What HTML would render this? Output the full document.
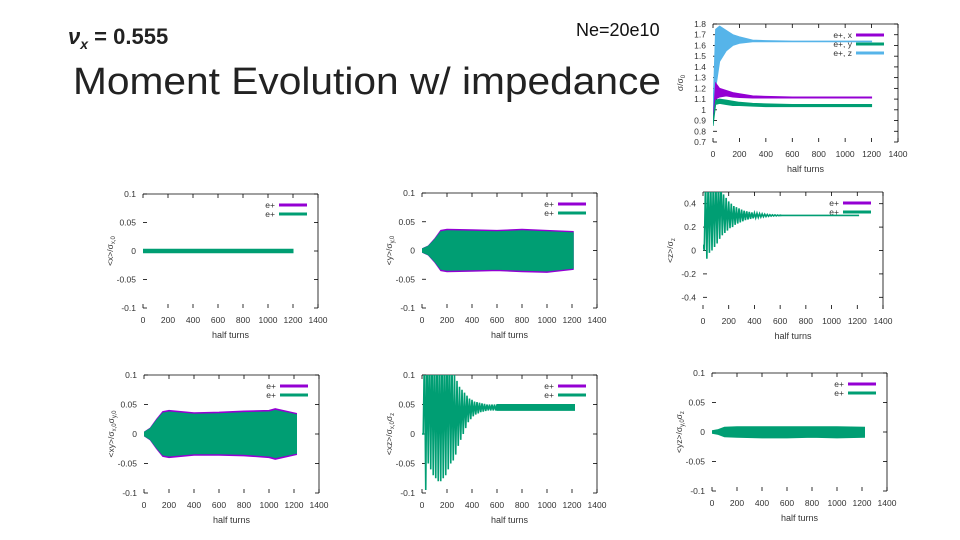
<!DOCTYPE html>
<html><head><meta charset="utf-8"><style>
html,body{margin:0;padding:0;background:#fff;}
svg{display:block;}
text{font-family:"Liberation Sans",sans-serif;}
</style></head><body>
<svg id="s" width="960" height="540" viewBox="0 0 960 540">
<text x="68" y="44" font-family="Liberation Serif,serif" font-size="22" font-weight="bold" font-style="italic" fill="#222">ν<tspan font-size="14" dy="5">x</tspan><tspan dy="-5" font-style="normal"> = 0.555</tspan></text>
<text x="576" y="36" font-size="18" fill="#111">Ne=20e10</text>
<text x="73" y="94" font-size="38" fill="#222" textLength="588" lengthAdjust="spacingAndGlyphs">Moment Evolution w/ impedance</text>
</svg>
<script>
// ---------- data ----------
// sigma panel (top right)
const sigX = [0,20,50,100,150,200,300,400,600,1200];
const sigZUp = [1.0,1.75,1.78,1.74,1.70,1.68,1.65,1.645,1.64,1.64];
const sigZLo = [0.85,1.2,1.45,1.55,1.6,1.62,1.635,1.635,1.635,1.635];
const sigXUp = [0.9,1.25,1.2,1.18,1.16,1.15,1.13,1.125,1.12,1.12];
const sigXLo = [0.9,1.1,1.12,1.13,1.12,1.115,1.11,1.11,1.11,1.11];
const sigYUp = [0.9,1.09,1.1,1.09,1.08,1.07,1.06,1.055,1.05,1.05];
const sigYLo = [0.85,1.05,1.06,1.05,1.04,1.04,1.035,1.03,1.03,1.03];
const sigYTicks = [0.7,0.8,0.9,1,1.1,1.2,1.3,1.4,1.5,1.6,1.7,1.8];
const turnTicks = [0,200,400,600,800,1000,1200,1400];
// <x>
const xxX = [0,200,400,600,800,1000,1200];
const xxUp = [0.003,0.003,0.003,0.003,0.003,0.003,0.003];
const xxLo = [-0.003,-0.003,-0.003,-0.003,-0.003,-0.003,-0.003];
// <y>
const yyX = [0,50,100,150,200,400,600,800,1000,1210];
const yyUp = [0.003,0.008,0.02,0.035,0.037,0.036,0.035,0.037,0.035,0.033];
const yyLo = [-0.003,-0.008,-0.02,-0.035,-0.037,-0.036,-0.035,-0.037,-0.038,-0.033];
// <z> peaks every 20 half turns
const zzX = [0,20,40,60,80,100,120,140,160,180,200,220,240,260,280,300,320,340,360,380,400,420,440,460,480,500,520,540,560,580,600];
const zzUp = [0.05,0.6,0.6,0.6,0.6,0.6,0.6,0.6,0.48,0.45,0.42,0.40,0.38,0.37,0.36,0.35,0.34,0.335,0.33,0.325,0.32,0.318,0.315,0.313,0.31,0.308,0.306,0.305,0.304,0.303,0.302];
const zzLo = [0.0,-0.07,-0.02,0.0,0.03,0.06,0.10,0.13,0.15,0.17,0.19,0.20,0.22,0.23,0.24,0.25,0.26,0.265,0.27,0.275,0.28,0.283,0.286,0.288,0.29,0.292,0.294,0.295,0.296,0.297,0.298];
const zzTailX = [600,1210];
const zzTailUp = [0.302,0.302];
const zzTailLo = [0.297,0.297];
// <xy>
const xyX = [0,50,100,150,200,400,600,800,1000,1050,1220];
const xyUp = [0.003,0.01,0.025,0.038,0.04,0.036,0.037,0.039,0.04,0.043,0.035];
const xyLo = [-0.003,-0.01,-0.025,-0.038,-0.04,-0.036,-0.036,-0.037,-0.04,-0.043,-0.035];
// <xz> peaks every 20 half turns
const xzX = [0,20,40,60,80,100,120,140,160,180,200,220,240,260,280,300,320,340,360,380,400,420,440,460,480,500,520,540,560,580,600];
const xzUp = [0.0,0.15,0.15,0.15,0.15,0.15,0.15,0.15,0.15,0.15,0.15,0.15,0.12,0.10,0.09,0.08,0.075,0.07,0.065,0.06,0.058,0.055,0.054,0.053,0.052,0.051,0.05,0.05,0.05,0.05,0.05];
const xzLo = [0.0,-0.095,-0.05,-0.06,-0.07,-0.075,-0.08,-0.08,-0.075,-0.07,-0.06,-0.05,-0.045,-0.035,-0.02,-0.01,0.0,0.01,0.02,0.025,0.03,0.033,0.035,0.037,0.038,0.039,0.04,0.04,0.04,0.04,0.04];
const xzTailX = [600,1220];
const xzTailUp = [0.05,0.05];
const xzTailLo = [0.04,0.04];
// <yz>
const yzX = [0,50,100,200,400,600,800,1000,1220];
const yzUp = [0.002,0.004,0.008,0.009,0.009,0.009,0.009,0.009,0.008];
const yzLo = [-0.002,-0.004,-0.008,-0.009,-0.01,-0.01,-0.009,-0.01,-0.009];
const tick01 = [-0.1,-0.05,0,0.05,0.1];
const tick04 = [-0.4,-0.2,0,0.2,0.4];

const NS='http://www.w3.org/2000/svg';
const svg=document.getElementById('s');
function el(tag,attrs,parent){const e=document.createElementNS(NS,tag);for(const k in attrs)e.setAttribute(k,attrs[k]);(parent||svg).appendChild(e);return e;}
const PUR='#9400d3',GRN='#009e73',BLU='#56b4e9';

function panel(name,g,yt,ylab,legend){
  const grp=el('g',{});
  
  
  const clipId='c'+name;
  const cp=el('clipPath',{id:clipId},grp);
  el('rect',{x:g.x0,y:g.yTop,width:g.x1-g.x0,height:g.yBot-g.yTop},cp);
  const sx=v=>g.x0+(v-0)/1400*(g.x1-g.x0);
  const sy=v=>g.yBot-(v-g.ymin)/(g.ymax-g.ymin)*(g.yBot-g.yTop);
  const ax=el('g',{stroke:'#000','stroke-width':0.8},grp);
  
  
  el('line',{x1:g.x0,y1:g.yTop,x2:g.x1,y2:g.yTop},ax);
  el('line',{x1:g.x1,y1:g.yTop,x2:g.x1,y2:g.yBot},ax);
  yt.forEach(v=>{const y=sy(v);
    el('line',{x1:g.x0,y1:y,x2:g.x0+4,y2:y},ax);el('line',{x1:g.x1-4,y1:y,x2:g.x1,y2:y},ax);
    const t=el('text',{x:g.x0-7,y:y+3,'font-size':8.5,'text-anchor':'end',fill:'#333'},grp);
    
    
    t.textContent=String(v);});
  turnTicks.forEach(v=>{const x=sx(v);
    el('line',{x1:x,y1:g.yBot,x2:x,y2:g.yBot-4},ax);el('line',{x1:x,y1:g.yTop,x2:x,y2:g.yTop+4},ax);
    const t=el('text',{x:x,y:g.yBot+15,'font-size':8.5,'text-anchor':'middle',fill:'#333'},grp);
    
    
    t.textContent=String(v);});
  const xl=el('text',{x:(g.x0+g.x1)/2,y:g.yBot+30,'font-size':9,'text-anchor':'middle',fill:'#333'},grp);
  
  
  xl.textContent='half turns';
  const cy=(g.yTop+g.yBot)/2, lx=g.x0-30;
  const yl=el('text',{x:lx,y:cy,'font-size':8.5,'text-anchor':'middle',fill:'#333',transform:`rotate(-90 ${lx} ${cy})`},grp);
  
  
  yl.innerHTML=ylab;
  legend.forEach((L,i)=>{const y=g.yTop+11+i*9;
    const t=el('text',{x:g.lx-4,y:y+3,'font-size':8.5,'text-anchor':'end',fill:'#333'},grp);
    
    
    t.textContent=L[0];
    const l=el('line',{x1:g.lx,y1:y,x2:g.lx+28,y2:y,stroke:L[1],'stroke-width':3},grp);
    
    });
  const data=el('g',{'clip-path':`url(#${clipId})`},grp);
  return {sx,sy,data};
}
function band(P,xs,up,lo,col,nm){
  let d='M'+xs.map((x,i)=>P.sx(x)+','+P.sy(up[i])).join(' L');
  for(let i=xs.length-1;i>=0;i--)d+=' L'+P.sx(xs[i])+','+P.sy(lo[i]);
  const p=el('path',{d:d+'Z',fill:col,stroke:col,'stroke-width':1},P.data);
  
  
}
function zig(P,xs,up,lo,col,nm){
  let d='';
  xs.forEach((x,i)=>{const x0=P.sx(x);const x1=P.sx(x+10);
    d+=(i?' L':'M')+x0+','+P.sy(up[i])+' L'+x1+','+P.sy(lo[i]);});
  const p=el('path',{d,fill:'none',stroke:col,'stroke-width':1.6},P.data);
  
  
}
const eLeg=[['e+',PUR],['e+',GRN]];
// sigma
let P=panel('sigma-chart',{x0:713,x1:898,yTop:24,yBot:142,ymin:0.7,ymax:1.8,lx:856},sigYTicks,'σ/σ<tspan font-size="6" dy="2">0</tspan>',[['e+, x',PUR],['e+, y',GRN],['e+, z',BLU]]);
band(P,sigX,sigZUp,sigZLo,BLU,'series-sigma-z');
band(P,sigX,sigXUp,sigXLo,PUR,'series-sigma-x');
band(P,sigX,sigYUp,sigYLo,GRN,'series-sigma-y');
// <x>
P=panel('x-chart',{x0:143,x1:318,yTop:194,yBot:308,ymin:-0.1,ymax:0.1,lx:279},tick01,'&lt;x&gt;/σ<tspan font-size="6" dy="2">x,0</tspan>',eLeg);
band(P,xxX,xxUp,xxLo,GRN,'series-x');
// <y>
P=panel('y-chart',{x0:422,x1:597,yTop:193,yBot:308,ymin:-0.1,ymax:0.1,lx:558},tick01,'&lt;y&gt;/σ<tspan font-size="6" dy="2">y,0</tspan>',eLeg);
band(P,yyX,yyUp,yyLo,PUR,'series-y-purple');
band(P,yyX,yyUp.map(v=>v*0.93),yyLo.map(v=>v*0.93),GRN,'series-y');
// <z>
P=panel('z-chart',{x0:703,x1:883,yTop:192,yBot:309,ymin:-0.5,ymax:0.5,lx:843},tick04,'&lt;z&gt;/σ<tspan font-size="6" dy="2">z</tspan>',eLeg);
zig(P,zzX,zzUp,zzLo,GRN,'series-z');
band(P,zzTailX,zzTailUp,zzTailLo,GRN,'series-z-tail');
// <xy>
P=panel('xy-chart',{x0:144,x1:319,yTop:375,yBot:493,ymin:-0.1,ymax:0.1,lx:280},tick01,'&lt;xy&gt;/σ<tspan font-size="6" dy="2">x,0</tspan><tspan dy="-2">σ</tspan><tspan font-size="6" dy="2">y,0</tspan>',eLeg);
band(P,xyX,xyUp,xyLo,PUR,'series-xy-purple');
band(P,xyX,xyUp.map(v=>v*0.93),xyLo.map(v=>v*0.93),GRN,'series-xy');
// <xz>
P=panel('xz-chart',{x0:422,x1:597,yTop:375,yBot:493,ymin:-0.1,ymax:0.1,lx:558},tick01,'&lt;xz&gt;/σ<tspan font-size="6" dy="2">x,0</tspan><tspan dy="-2">σ</tspan><tspan font-size="6" dy="2">z</tspan>',eLeg);
zig(P,xzX,xzUp,xzLo,GRN,'series-xz');
band(P,xzTailX,xzTailUp,xzTailLo,GRN,'series-xz-tail');
// <yz>
P=panel('yz-chart',{x0:712,x1:887,yTop:373,yBot:491,ymin:-0.1,ymax:0.1,lx:848},tick01,'&lt;yz&gt;/σ<tspan font-size="6" dy="2">y,0</tspan><tspan dy="-2">σ</tspan><tspan font-size="6" dy="2">z</tspan>',eLeg);
band(P,yzX,yzUp,yzLo,GRN,'series-yz');
</script>
</body></html>
